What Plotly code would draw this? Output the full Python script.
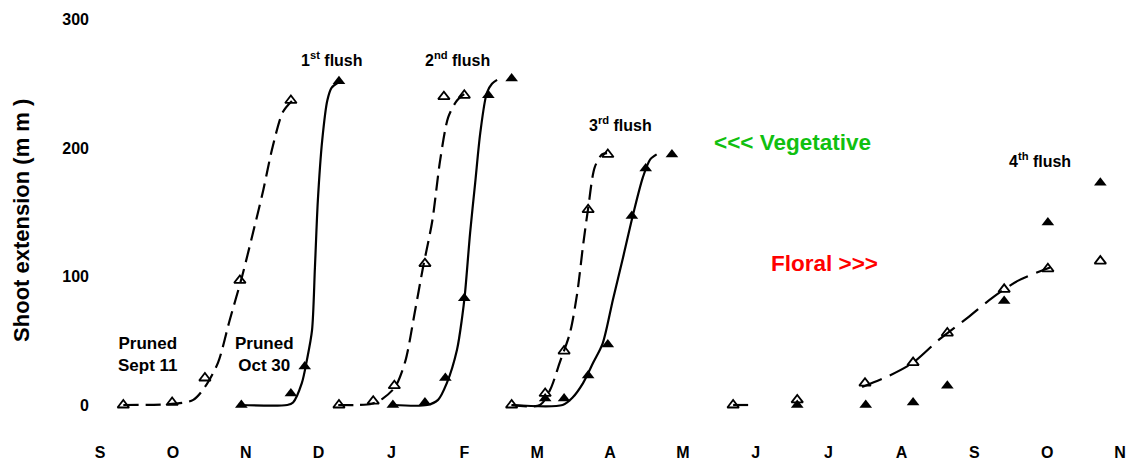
import plotly.graph_objects as go

months = ['S', 'O', 'N', 'D', 'J', 'F', 'M', 'A', 'M', 'J', 'J', 'A', 'S', 'O', 'N']
month_pos = list(range(len(months)))
y_ticks = [0, 100, 200, 300]

# Pruned Sept 11 (open triangles) -- observed points
open_x = [0.32, 0.99, 1.44, 1.92, 2.62,
          3.28, 3.75, 4.04, 4.46, 4.72, 5.00,
          5.65, 6.11, 6.37, 6.70, 6.97,
          8.69, 9.57, 10.50, 11.16, 11.63, 12.41, 13.01, 13.73]
open_y = [0, 2, 21, 97, 237,
          0, 3, 15, 110, 240, 241,
          0, 9, 42, 152, 195,
          0, 4, 17, 33, 56, 90, 106, 112]

# Pruned Oct 30 (filled triangles) -- observed points
fill_x = [1.94, 2.62, 2.81, 3.28,
          4.02, 4.46, 4.74, 5.00, 5.33, 5.65,
          6.11, 6.37, 6.70, 6.97, 7.30, 7.49, 7.85,
          9.57, 10.51, 11.16, 11.63, 12.41, 13.01, 13.73]
fill_y = [0, 9, 30, 252,
          0, 2, 21, 83, 241, 254,
          5, 5, 23, 47, 147, 184, 195,
          0, 0, 2, 15, 81, 142, 173]

# fitted curves
c1_x = [0.32, 1.03, 1.28, 1.44, 1.62, 1.78, 1.95, 2.10, 2.24, 2.37, 2.51, 2.64]
c1_y = [0, 1, 4, 14, 33, 66, 100, 134, 167, 201, 228, 237]
c2_x = [1.92, 2.57, 2.65, 2.77, 2.84, 2.91, 2.95, 2.99, 3.05, 3.12, 3.18, 3.27]
c2_y = [0, 0, 2, 17, 35, 58, 107, 159, 206, 237, 247, 251]
c3_x = [3.27, 3.54, 3.73, 3.88, 4.05, 4.19, 4.32, 4.43, 4.56, 4.67, 4.78, 4.90, 5.00]
c3_y = [0, 0, 1, 5, 14, 34, 72, 106, 143, 191, 224, 237, 242]
c4_x = [4.02, 4.49, 4.64, 4.76, 4.90, 4.97, 5.01, 5.08, 5.15, 5.22, 5.31, 5.38, 5.45]
c4_y = [0, 0, 4, 17, 43, 68, 87, 134, 173, 212, 243, 250, 253]
c5_x = [5.65, 6.04, 6.18, 6.31, 6.45, 6.55, 6.63, 6.70, 6.79, 6.89, 6.96]
c5_y = [0, 0, 12, 33, 56, 87, 124, 153, 185, 195, 196]
c6_x = [5.65, 6.35, 6.49, 6.63, 6.77, 6.90, 7.04, 7.18, 7.32, 7.45, 7.55, 7.64]
c6_y = [0, 0, 6, 17, 33, 48, 82, 115, 149, 177, 191, 195]
c7_x = [8.69, 8.93]
c7_y = [0, 0]
c8_x = [10.46, 10.84, 11.16, 11.52, 11.91, 12.26, 12.61, 13.04]
c8_y = [14, 23, 33, 51, 68, 84, 97, 107]

FONT = "Arial, Liberation Sans, sans-serif"
fig = go.Figure()

dashed = [(c1_x, c1_y), (c3_x, c3_y), (c5_x, c5_y), (c7_x, c7_y)]
solid = [(c2_x, c2_y), (c4_x, c4_y), (c6_x, c6_y)]
for cx, cy in dashed:
    fig.add_trace(go.Scatter(x=cx, y=cy, mode='lines', line=dict(color='black', width=2.2, dash='15px,7px', shape='spline', smoothing=0.8), showlegend=False, hoverinfo='skip'))
fig.add_trace(go.Scatter(x=c8_x, y=c8_y, mode='lines', line=dict(color='black', width=2.2, dash='21px,9px', shape='spline', smoothing=0.8), showlegend=False, hoverinfo='skip'))
for cx, cy in solid:
    fig.add_trace(go.Scatter(x=cx, y=cy, mode='lines', line=dict(color='black', width=2.2, shape='spline', smoothing=0.8), showlegend=False, hoverinfo='skip'))

fig.add_trace(go.Scatter(x=open_x, y=open_y, mode='markers', marker=dict(symbol='triangle-up-open', size=10, color='black', line=dict(width=1.8, color='black')), showlegend=False))
fig.add_trace(go.Scatter(x=fill_x, y=fill_y, mode='markers', marker=dict(symbol='triangle-up', size=11, color='black'), showlegend=False))

def txt(x, y, s, size=17, color='black'):
    fig.add_annotation(x=x, y=y, text=s, showarrow=False, font=dict(family=FONT, size=size, color=color, weight='bold'), xanchor='center', yanchor='middle')

txt(3.18, 269, '1<sup>st</sup> flush', size=16)
txt(4.91, 269, '2<sup>nd</sup> flush', size=16)
txt(7.14, 219, '3<sup>rd</sup> flush', size=16)
txt(12.90, 191, '4<sup>th</sup> flush', size=16)
txt(0.66, 39, 'Pruned<br>Sept 11')
txt(2.26, 39, 'Pruned<br>Oct 30')
txt(9.50, 204, '&lt;&lt;&lt; Vegetative', size=22.5, color='#10c010')
txt(9.95, 110, 'Floral &gt;&gt;&gt;', size=22.5, color='#ff0000')

fig.add_annotation(xref='paper', yref='paper', x=-0.0765, y=0.506, text='Shoot extension (m m )', textangle=-90, showarrow=False,
                   font=dict(family=FONT, size=22, color='black', weight='bold'), xanchor='center', yanchor='middle')

fig.update_layout(
    width=1129, height=461, margin=dict(l=100, r=9, t=10, b=26, autoexpand=False),
    plot_bgcolor='white', paper_bgcolor='white',
    xaxis=dict(range=[0, 14], tickvals=month_pos, ticktext=months, showgrid=False, zeroline=False, showline=False, ticks='',
               automargin=False, tickfont=dict(family=FONT, size=16, color='black', weight='bold'), ticklabelstandoff=6),
    yaxis=dict(range=[-23.35, 307.4], tickvals=y_ticks, showgrid=False, zeroline=False, showline=False, ticks='',
               automargin=False, tickfont=dict(family=FONT, size=16, color='black', weight='bold'), ticklabelstandoff=10),
)
fig.write_html("out.html")
